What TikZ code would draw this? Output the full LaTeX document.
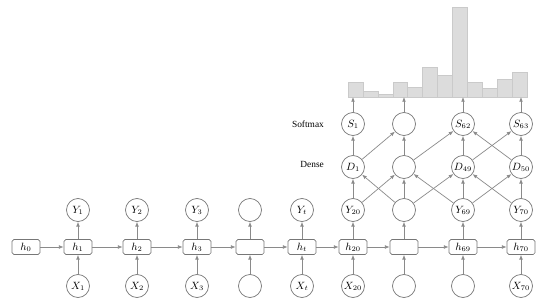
\documentclass[tikz,border=0pt]{standalone}
\usepackage{fontspec}
\setmainfont{Liberation Serif}
\usepackage{tikz}
\usetikzlibrary{positioning,calc,arrows.meta}
\definecolor{CLine}{HTML}{8A8A8A}
\definecolor{CEdge}{HTML}{777777}
\definecolor{CBar}{HTML}{DCDCDC}
\definecolor{CBarEdge}{HTML}{CACACA}

\begin{document}
\begin{tikzpicture}[x=0.03cm, y=-0.03cm,
  unit/.style={circle, draw=CEdge, line width=0.6pt, minimum size=0.69cm, inner sep=0pt, font=\small},
  state/.style={rectangle, rounded corners=1.5pt, draw=CEdge, line width=0.6pt, minimum width=0.84cm, minimum height=0.45cm, inner sep=0pt, font=\small},
  conn/.style={CLine, line width=0.6pt, -{Latex[length=4pt,width=3.2pt]}},
  bar/.style={draw=CBarEdge, fill=CBar, line width=0.4pt},
  rowlabel/.style={font=\footnotesize, anchor=east}]
\useasboundingbox (0,0) rectangle (550,306);
% histogram over the softmax outputs
\foreach \t [count=\i from 0] in {82,91,94,82,87,67,75,7,82,88,79,72}{
  \draw[bar] ({348+\i*14.92},97) rectangle ++(14.92,{\t-97});
}
\coordinate (base) at (348,97);
% recurrent chain
\node[state] (h0) at (26,247) {$h_0$};
\foreach \c/\x/\hl/\yl/\xl in {1/78/h_1/Y_1/X_1, 2/137/h_2/Y_2/X_2, 3/197/h_3/Y_3/X_3,
    4/250/{}/{}/{}, 5/302/h_t/Y_t/X_t, 6/353/h_{20}/Y_{20}/X_{20},
    7/404/{}/{}/{}, 8/463/h_{69}/Y_{69}/{}, 9/521/h_{70}/Y_{70}/X_{70}}{
  \node[state] (h\c) at (\x,247) {$\hl$};
  \node[unit] (y\c) at (\x,210) {$\yl$};
  \node[unit] (x\c) at (\x,286) {$\xl$};
  \draw[conn] (x\c) -- (h\c);
  \draw[conn] (h\c) -- (y\c);
}
\foreach \a/\b in {0/1,1/2,2/3,3/4,4/5,5/6,6/7,7/8,8/9}{
  \draw[conn] (h\a) -- (h\b);
}
% dense and softmax layers
\node[rowlabel] at (328,124) {Softmax};
\node[rowlabel] at (328,164) {Dense};
\foreach \c/\x/\dl/\sl in {6/353/D_1/S_1, 7/404/{}/{}, 8/463/D_{49}/S_{62}, 9/521/D_{50}/S_{63}}{
  \node[unit] (d\c) at (\x,167) {$\dl$};
  \node[unit] (s\c) at (\x,124) {$\sl$};
  \draw[conn] (y\c) -- (d\c);
  \draw[conn] (d\c) -- (s\c);
  \draw[conn] (s\c) -- (s\c |- base);
}
\foreach \a/\b in {6/7,7/6,7/8,8/7,8/9,9/8}{
  \draw[conn] (y\a) -- (d\b);
}
\foreach \a/\b in {6/7,7/8,8/9,9/8}{
  \draw[conn] (d\a) -- (s\b);
}
\end{tikzpicture}
\end{document}
